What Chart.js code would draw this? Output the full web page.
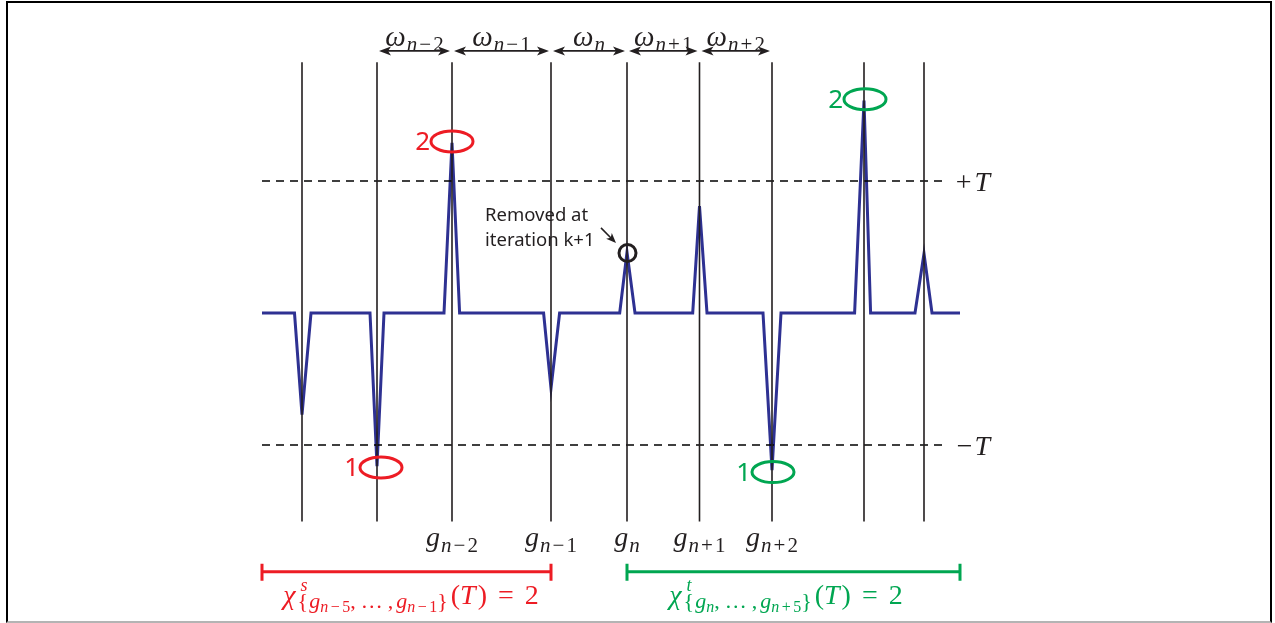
<!DOCTYPE html>
<html>
<head>
<meta charset="utf-8">
<script src="https://cdn.jsdelivr.net/npm/chart.js@4/dist/chart.umd.min.js"></script>
<style>
  body { margin: 0; background: #fff; }
  #wrap { position: relative; width: 1275px; height: 623px; }
  #frame { position: absolute; left: 6px; top: 1px; width: 1262px; height: 618px;
           border: 2px solid #000; border-bottom: 2px solid #b4b4b4; pointer-events: none; }
</style>
</head>
<body>
<div id="wrap">
  <canvas id="myChart" width="1275" height="623"></canvas>
  <div id="frame"></div>
</div>
<script>
// signal samples (x in time units, y in units of the threshold T)
const signalX = [0, 3.25, 4.0, 4.9, 10.8, 11.5, 12.2, 18.2, 19.0, 19.76, 28.16, 28.9, 29.76,
                 35.77, 36.5, 37.3, 43.07, 43.75, 44.5, 50.1, 51.0, 51.9, 59.26, 60.2, 60.86,
                 65.3, 66.2, 67.0, 69.8];
const signalY = [0, 0, -0.77, 0, 0, -1.16, 0, 0, 1.29, 0, 0, -0.57, 0,
                 0, 0.46, 0, 0, 0.81, 0, 0, -1.19, 0, 0, 1.61, 0,
                 0, 0.45, 0, 0];

// vertical grid lines (one per sample instant)
const gridX = [4.0, 11.5, 19.0, 28.9, 36.5, 43.75, 51.0, 60.2, 66.2];
const gridTop = 1.90;
const gridBottom = -1.58;

// threshold
const T = 1;

// interval labels above (between grid lines 1..6) and sample labels below (grid lines 2..6)
const omegaSubs = ['n−2', 'n−1', 'n', 'n+1', 'n+2'];
const gSubs = ['n−2', 'n−1', 'n', 'n+1', 'n+2'];

// counted crossings
const redMarks = [{ x: 19.0, y: 1.30, label: '2' }, { x: 11.9, y: -1.17, label: '1' }];
const greenMarks = [{ x: 60.3, y: 1.62, label: '2' }, { x: 51.1, y: -1.205, label: '1' }];
const removedPeak = { x: 36.55, y: 0.455 };

const RED = '#ed1c24';
const GREEN = '#00a651';
const BLUE = '#2e3192';
const INK = '#231f20';
const SERIF = '"Liberation Serif", "DejaVu Serif", serif';
const SANS = '"Noto Sans", "Open Sans", sans-serif';

const signalData = signalX.map(function(x, i) {
    return { x: x, y: signalY[i] };
});

const gridData = [];
gridX.forEach(function(x) {
    gridData.push({ x: x, y: gridTop }, { x: x, y: gridBottom }, { x: x, y: null });
});

const thrEnd = 68.5;

function fontOf(r) {
    return (r.it ? 'italic ' : '') + r.size + 'px ' + (r.sans ? SANS : SERIF);
}

function drawRuns(ctx, runs, x, y, align, color) {
    let total = 0;
    runs.forEach(function(r) {
        ctx.font = fontOf(r);
        r.w = ctx.measureText(r.t).width;
        if (!r.noAdvance) total += r.w + (r.gap || 0);
    });
    let cx = align === 'center' ? x - total / 2 : (align === 'right' ? x - total : x);
    ctx.fillStyle = color;
    ctx.textBaseline = 'alphabetic';
    ctx.textAlign = 'left';
    runs.forEach(function(r) {
        ctx.font = fontOf(r);
        ctx.fillText(r.t, cx + (r.dx || 0), y + (r.dy || 0));
        if (!r.noAdvance) cx += r.w + (r.gap || 0);
    });
}

// letters italic, digits upright, a little air around + and −
function scriptRuns(text, size, dy, opGap) {
    const runs = [];
    for (const ch of text) {
        const isOp = ch === '−' || ch === '+';
        if (isOp && runs.length) runs[runs.length - 1].gap = opGap;
        runs.push({ t: ch, it: /[a-z]/i.test(ch), size: size, dy: dy, gap: isOp ? opGap : 0 });
    }
    return runs;
}

function mathLabel(base, sub, size, subSize) {
    return [{ t: base, it: true, size: size, gap: 1 }].concat(scriptRuns(sub, subSize, size * 0.2, 2));
}

function chiRuns(sup, first, last) {
    const S = 28, s1 = 22, s2 = 16, d1 = 4, d2 = 8;
    let runs = [
        { t: 'χ', it: true, size: S, gap: 2 },
        { t: sup, it: true, size: 18, dy: -13, dx: 3, noAdvance: true },
        { t: '{', size: s1, dy: d1, gap: 1 },
        { t: 'g', it: true, size: s1, dy: d1 }
    ];
    runs = runs.concat(scriptRuns('n' + first, s2, d2, 2.5));
    runs.push({ t: ',', size: s1, dy: d1, gap: 5 });
    runs.push({ t: '…', size: s1, dy: d1, gap: 5 });
    runs.push({ t: ',', size: s1, dy: d1, gap: 3 });
    runs.push({ t: 'g', it: true, size: s1, dy: d1 });
    runs = runs.concat(scriptRuns('n' + last, s2, d2, 2.5));
    runs.push({ t: '}', size: s1, dy: d1, gap: 3 });
    runs.push({ t: '(', size: S });
    runs.push({ t: 'T', it: true, size: S, gap: 2 });
    runs.push({ t: ')', size: S, gap: 11 });
    runs.push({ t: '=', size: S, gap: 11 });
    runs.push({ t: '2', size: S });
    return runs;
}

function arrowHead(ctx, x, y, dir, len, half) {
    ctx.beginPath();
    ctx.moveTo(x, y);
    ctx.lineTo(x - dir * len, y - half);
    ctx.lineTo(x - dir * len * 0.75, y);
    ctx.lineTo(x - dir * len, y + half);
    ctx.closePath();
    ctx.fill();
}

const overlay = {
    id: 'overlay',
    afterDatasetsDraw(chart) {
        const ctx = chart.ctx;
        const px = function(v) { return chart.scales.x.getPixelForValue(v); };
        const py = function(v) { return chart.scales.y.getPixelForValue(v); };
        ctx.save();

        // threshold labels
        drawRuns(ctx, [{ t: '+', size: 28, gap: 3 }, { t: 'T', it: true, size: 28 }], px(72.8), py(T) + 10, 'right', INK);
        drawRuns(ctx, [{ t: '−', size: 28, gap: 2 }, { t: 'T', it: true, size: 28 }], px(72.8), py(-T) + 10, 'right', INK);

        // omega intervals with double arrows
        ctx.strokeStyle = INK;
        ctx.fillStyle = INK;
        ctx.lineWidth = 1.8;
        const ay = py(1.985);
        for (let i = 0; i < omegaSubs.length; i++) {
            const x1 = px(gridX[i + 1]) + 2, x2 = px(gridX[i + 2]) - 2;
            ctx.beginPath();
            ctx.moveTo(x1 + 5, ay);
            ctx.lineTo(x2 - 5, ay);
            ctx.stroke();
            arrowHead(ctx, x1, ay, -1, 12, 4.5);
            arrowHead(ctx, x2, ay, 1, 12, 4.5);
            drawRuns(ctx, mathLabel('ω', omegaSubs[i], 29, 21), (x1 + x2) / 2, py(2.025), 'center', INK);
        }

        // sample labels under the grid lines
        for (let i = 0; i < gSubs.length; i++) {
            drawRuns(ctx, mathLabel('g', gSubs[i], 28, 21), px(gridX[i + 2]), py(-1.765), 'center', INK);
        }

        // brackets
        const by = py(-1.96);
        [[signalX[0], gridX[3], RED], [gridX[4], signalX[signalX.length - 1], GREEN]].forEach(function(b) {
            ctx.strokeStyle = b[2];
            ctx.lineWidth = 3;
            ctx.beginPath();
            ctx.moveTo(px(b[0]), by);
            ctx.lineTo(px(b[1]), by);
            ctx.moveTo(px(b[0]), by - 8);
            ctx.lineTo(px(b[0]), by + 9);
            ctx.moveTo(px(b[1]), by - 8);
            ctx.lineTo(px(b[1]), by + 9);
            ctx.stroke();
        });
        drawRuns(ctx, chiRuns('s', '−5', '−1'), px(14.9), py(-2.205), 'center', RED);
        drawRuns(ctx, chiRuns('t', '', '+5'), px(52.4), py(-2.205), 'center', GREEN);

        // counted crossings
        [[redMarks, RED], [greenMarks, GREEN]].forEach(function(set) {
            set[0].forEach(function(m) {
                const cx = px(m.x), cy = py(m.y);
                ctx.strokeStyle = set[1];
                ctx.lineWidth = 3;
                ctx.beginPath();
                ctx.ellipse(cx, cy, 21, 10.5, 0, 0, Math.PI * 2);
                ctx.stroke();
                drawRuns(ctx, [{ t: m.label, size: 26, sans: true }], cx - 22, cy + 9, 'right', set[1]);
            });
        });

        // removed peak
        ctx.strokeStyle = INK;
        ctx.lineWidth = 3;
        ctx.beginPath();
        ctx.arc(px(removedPeak.x), py(removedPeak.y), 8.5, 0, Math.PI * 2);
        ctx.stroke();
        drawRuns(ctx, [{ t: 'Removed at', size: 18.5, sans: true }], px(22.3), py(0.7), 'left', INK);
        drawRuns(ctx, [{ t: 'iteration k+1', size: 18.5, sans: true }], px(22.3), py(0.51), 'left', INK);
        const ax1 = px(33.9), ay1 = py(0.645), ax2 = px(35.4), ay2 = py(0.53);
        ctx.lineWidth = 1.5;
        ctx.beginPath();
        ctx.moveTo(ax1, ay1);
        ctx.lineTo(ax2 - 4, ay2 - 4);
        ctx.stroke();
        ctx.save();
        ctx.translate(ax2, ay2);
        ctx.rotate(Math.atan2(ay2 - ay1, ax2 - ax1));
        arrowHead(ctx, 0, 0, 1, 10, 4);
        ctx.restore();

        ctx.restore();
    }
};

const ctx = document.getElementById('myChart');

new Chart(ctx, {
    type: 'scatter',
    data: {
        datasets: [
            {
                label: 'grid',
                data: gridData,
                showLine: true,
                spanGaps: false,
                borderColor: INK,
                borderWidth: 1.6,
                pointRadius: 0
            },
            {
                label: '+T',
                data: [{ x: signalX[0], y: T }, { x: thrEnd, y: T }],
                showLine: true,
                borderColor: '#000',
                borderWidth: 1.4,
                borderDash: [8, 6],
                pointRadius: 0
            },
            {
                label: '-T',
                data: [{ x: signalX[0], y: -T }, { x: thrEnd, y: -T }],
                showLine: true,
                borderColor: '#000',
                borderWidth: 1.4,
                borderDash: [8, 6],
                pointRadius: 0
            },
            {
                label: 'signal',
                data: signalData,
                showLine: true,
                borderColor: BLUE,
                borderWidth: 3,
                borderJoinStyle: 'miter',
                pointRadius: 0
            }
        ]
    },
    options: {
        responsive: false,
        animation: false,
        layout: { padding: 0 },
        events: [],
        plugins: {
            legend: { display: false },
            tooltip: { enabled: false }
        },
        scales: {
            x: { type: 'linear', display: false, min: -26.2, max: 101.3 },
            y: { type: 'linear', display: false, min: -2.348, max: 2.371 }
        }
    },
    plugins: [overlay]
});
</script>
</body>
</html>
